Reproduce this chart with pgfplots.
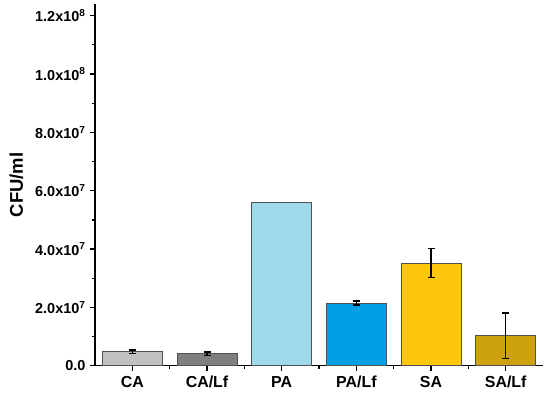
\documentclass[border=0pt]{standalone}
\usepackage{pgfplots}
\pgfplotsset{compat=1.18}
\usepackage{fontspec}
\setmainfont{Liberation Sans}
\definecolor{cCA}{HTML}{C0C0C0}
\definecolor{cCALf}{HTML}{808080}
\definecolor{cPA}{HTML}{9DD9EA}
\definecolor{cPALf}{HTML}{00A0E4}
\definecolor{cSA}{HTML}{FFC70B}
\definecolor{cSALf}{HTML}{CEA20E}
\definecolor{edge}{HTML}{505050}
\begin{document}
\begin{tikzpicture}[x=1bp,y=1bp]
\path[use as bounding box] (-95,-34.3) rectangle (455,365.7);
\begin{axis}[
  at={(0,0)}, anchor=south west,
  scale only axis, width=448bp, height=361.7bp,
  xmin=0.5, xmax=6.5, ymin=0, ymax=1.24e8,
  axis x line*=bottom, axis y line*=left,
  axis line style={line width=1.4bp, black, -},
  ybar, bar width=60bp, bar shift=0pt,
  xtick={1,2,3,4,5,6},
  xticklabels={CA,CA/Lf,PA,PA/Lf,SA,SA/Lf},
  minor xtick={1.5,2.5,3.5,4.5,5.5},
  ytick={0,2e7,4e7,6e7,8e7,1e8,1.2e8},
  yticklabels={0.0,{2.0x10\textsuperscript{7}},{4.0x10\textsuperscript{7}},{6.0x10\textsuperscript{7}},{8.0x10\textsuperscript{7}},{1.0x10\textsuperscript{8}},{1.2x10\textsuperscript{8}}},
  minor ytick={1e7,3e7,5e7,7e7,9e7,1.1e8},
  scaled y ticks=false,
  tick align=outside,
  major tick length=5bp, minor tick length=3bp,
  tick style={line width=1.3bp, black},
  xticklabel style={font=\fontsize{16}{18}\selectfont\bfseries, yshift=-2bp},
  yticklabel style={font=\fontsize{14.5}{16}\selectfont\bfseries, xshift=-1bp},
  ylabel={CFU/ml},
  every axis y label/.style={at={(axis description cs:0,0.5)}, xshift=-78.5bp, rotate=90, anchor=center, font=\fontsize{18.5}{20}\selectfont\bfseries},
  error bars/y dir=both, error bars/y explicit,
  error bars/error bar style={line width=1.6bp, black},
  error bars/error mark options={rotate=90, mark size=3.5bp, line width=1.6bp, black},
]
\addplot[fill=cCA, draw=edge, line width=0.8bp] coordinates {(1,0.48e7) +- (0,0.06e7)};
\addplot[fill=cCALf, draw=edge, line width=0.8bp] coordinates {(2,0.41e7) +- (0,0.06e7)};
\addplot[fill=cPA, draw=edge, line width=0.8bp, error bars/y dir=none] coordinates {(3,5.61e7)};
\addplot[fill=cPALf, draw=edge, line width=0.8bp] coordinates {(4,2.15e7) +- (0,0.07e7)};
\addplot[fill=cSA, draw=edge, line width=0.8bp] coordinates {(5,3.52e7) +- (0,0.5e7)};
\addplot[fill=cSALf, draw=edge, line width=0.8bp] coordinates {(6,1.03e7) +- (0,0.785e7)};
\end{axis}
\end{tikzpicture}
\end{document}
